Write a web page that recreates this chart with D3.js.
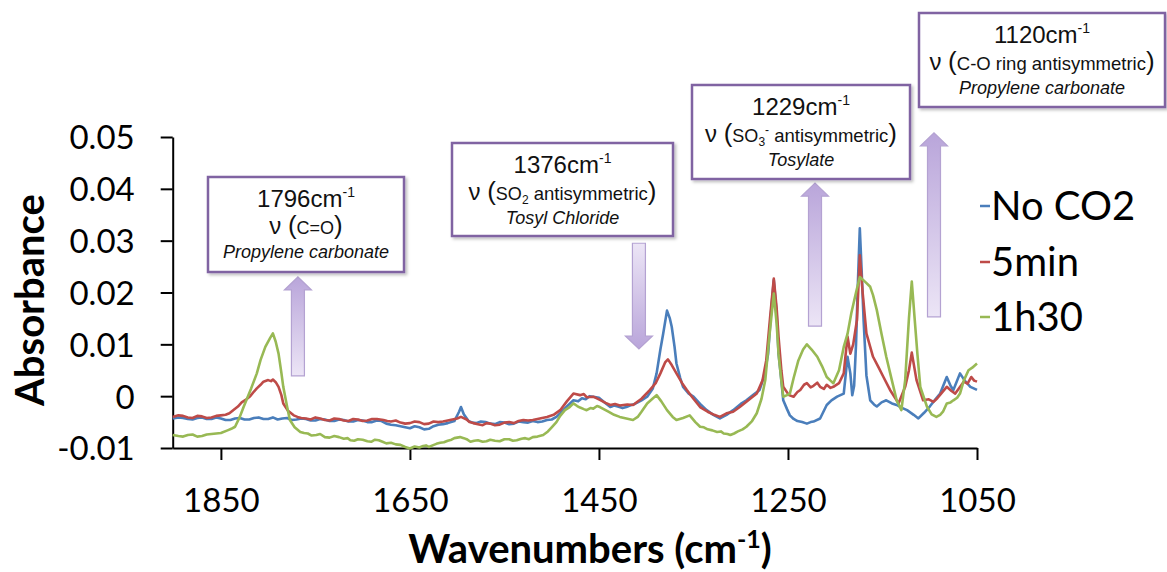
<!DOCTYPE html>
<html>
<head>
<meta charset="utf-8">
<script src="https://cdn.jsdelivr.net/npm/d3@7"></script>
<style>
  html, body { margin: 0; padding: 0; background: #ffffff; }
  svg { display: block; }
</style>
</head>
<body>
<svg id="chart" width="1167" height="572"></svg>
<script>
// ---------------- DATA ----------------
const seriesNames = ["No CO2", "5min", "1h30"];

const xTickValues = [1850, 1650, 1450, 1250, 1050];
const yTickValues = [-0.01, 0, 0.01, 0.02, 0.03, 0.04, 0.05];
const yTickLabels = ["-0.01", "0", "0.01", "0.02", "0.03", "0.04", "0.05"];

// [wavenumber (cm-1), absorbance]
const noCO2 = [
  [1901,-0.0043],[1895,-0.0041],[1890,-0.0042],[1885,-0.0044],[1880,-0.0045],[1875,-0.0042],[1870,-0.0041],
  [1865,-0.0044],[1860,-0.0044],[1855,-0.0041],[1850,-0.0043],[1845,-0.0046],
  [1840,-0.0046],[1835,-0.0043],[1830,-0.0042],[1825,-0.0045],[1820,-0.0045],[1815,-0.0042],[1810,-0.0041],
  [1805,-0.0044],[1800,-0.0044],[1795,-0.0041],[1790,-0.0045],
  [1785,-0.0043],[1780,-0.0042],[1775,-0.0046],[1770,-0.0045],[1765,-0.0043],[1760,-0.0044],[1755,-0.0047],
  [1750,-0.0047],[1745,-0.0044],[1740,-0.0045],[1735,-0.0048],[1730,-0.0048],
  [1725,-0.0045],[1720,-0.0046],[1715,-0.0049],[1710,-0.0049],[1705,-0.0046],[1700,-0.0047],[1695,-0.0050],
  [1690,-0.0050],[1685,-0.0047],[1680,-0.0048],[1675,-0.0053],[1670,-0.0055],
  [1665,-0.0056],[1660,-0.0058],[1655,-0.0060],[1650,-0.0062],[1645,-0.0058],[1640,-0.0060],[1635,-0.0064],
  [1630,-0.0063],[1625,-0.0058],[1620,-0.0055],[1615,-0.0054],[1610,-0.0052],
  [1603,-0.0048],[1598,-0.0030],[1596,-0.0021],[1593,-0.0035],[1588,-0.0048],[1584,-0.0051],[1580,-0.0052],
  [1575,-0.0049],[1570,-0.0050],[1565,-0.0053],[1560,-0.0054],[1555,-0.0050],[1550,-0.0051],[1545,-0.0054],
  [1540,-0.0053],[1535,-0.0049],[1530,-0.0050],[1525,-0.0051],[1520,-0.0048],
  [1515,-0.0050],[1510,-0.0049],[1505,-0.0046],[1500,-0.0045],[1495,-0.0040],[1491,-0.0033],[1484,-0.0020],
  [1477,-0.0008],[1472,-0.0010],[1468,-0.0004],[1464,-0.0006],
  [1460,0.0000],[1456,-0.0001],[1450,-0.0003],[1444,-0.0012],[1438,-0.0021],[1434,-0.0018],[1430,-0.0020],
  [1425,-0.0023],[1421,-0.0021],[1416,-0.0017],[1412,-0.0015],[1405,-0.0008],[1399,-0.0001],[1393,0.0015],[1389,0.0044],
  [1385,0.0090],[1382,0.0121],[1378,0.0165],[1375,0.0150],[1373,0.0134],[1370,0.0095],
  [1368,0.0063],[1364,0.0035],[1361,0.0018],[1355,0.0005],[1350,-0.0001],[1343,-0.0015],
  [1336,-0.0027],[1329,-0.0036],[1322,-0.0043],[1315,-0.0036],[1308,-0.0027],[1300,-0.0015],
  [1294,-0.0008],[1287,0.0002],[1280,0.0012],[1275,0.0040],[1271,0.0082],[1268,0.0160],
  [1265,0.0224],[1262,0.0160],[1260,0.0082],[1257,0.0030],[1255,-0.0008],[1251,-0.0025],
  [1248,-0.0037],[1244,-0.0044],[1240,-0.0048],[1235,-0.0050],[1230,-0.0053],[1226,-0.0050],[1223,-0.0049],[1216,-0.0043],
  [1209,-0.0017],[1204,-0.0008],[1198,-0.0001],[1191,0.0005],[1189,0.0040],[1187,0.0076],
  [1184,0.0044],[1182,0.0002],[1180,0.0020],[1178,0.0100],[1176,0.0220],[1174,0.0324],
  [1172,0.0240],[1170,0.0147],[1167,0.0040],[1163,-0.0008],[1159,-0.0016],[1156,-0.0020],[1151,-0.0012],[1146,-0.0008],
  [1140,-0.0014],[1135,-0.0017],[1130,-0.0022],[1124,-0.0027],[1117,-0.0036],[1112,-0.0043],[1106,-0.0032],[1100,-0.0020],
  [1094,-0.0006],[1089,0.0005],[1082,0.0037],[1078,0.0020],[1075,0.0012],[1068,0.0044],[1063,0.0030],[1057,0.0018],[1050,0.0012]
];

const min5 = [
  [1901,-0.0040],[1895,-0.0037],[1890,-0.0038],[1885,-0.0041],[1880,-0.0042],[1875,-0.0038],[1870,-0.0039],
  [1865,-0.0042],[1860,-0.0041],[1855,-0.0038],[1850,-0.0037],
  [1845,-0.0036],[1841,-0.0033],[1837,-0.0027],[1832,-0.0020],[1828,-0.0012],[1823,-0.0006],[1819,0.0000],[1815,0.0009],[1812,0.0015],[1808,0.0022],[1805,0.0028],
  [1800,0.0031],[1797,0.0029],[1795,0.0032],[1792,0.0027],[1789,0.0018],[1786,0.0002],[1784,-0.0014],
  [1779,-0.0028],[1773,-0.0037],[1769,-0.0040],[1765,-0.0042],[1760,-0.0043],[1755,-0.0045],[1750,-0.0041],[1745,-0.0043],[1740,-0.0046],[1735,-0.0047],
  [1730,-0.0043],[1725,-0.0044],[1720,-0.0047],[1715,-0.0048],[1710,-0.0044],[1705,-0.0045],[1700,-0.0048],[1695,-0.0047],[1690,-0.0044],[1685,-0.0044],[1678,-0.0046],
  [1674,-0.0048],[1670,-0.0049],[1665,-0.0047],[1660,-0.0051],[1655,-0.0053],[1650,-0.0052],[1645,-0.0049],[1640,-0.0050],[1635,-0.0054],[1630,-0.0053],[1625,-0.0049],[1620,-0.0050],
  [1615,-0.0049],[1610,-0.0047],[1605,-0.0045],[1600,-0.0043],[1596,-0.0040],[1590,-0.0045],[1587,-0.0050],[1583,-0.0052],[1578,-0.0054],[1573,-0.0056],
  [1569,-0.0052],[1565,-0.0053],[1560,-0.0056],[1555,-0.0055],[1550,-0.0051],[1545,-0.0050],[1540,-0.0052],[1535,-0.0048],[1530,-0.0046],[1525,-0.0047],[1520,-0.0046],[1515,-0.0044],
  [1510,-0.0042],[1505,-0.0040],[1498,-0.0036],[1491,-0.0027],[1484,-0.0010],[1477,0.0005],[1470,0.0002],
  [1466,0.0004],[1463,-0.0002],[1456,-0.0001],[1448,-0.0008],[1443,-0.0013],[1438,-0.0017],[1433,-0.0015],[1428,-0.0018],[1420,-0.0016],
  [1414,-0.0017],[1405,-0.0005],[1396,0.0012],[1390,0.0025],[1385,0.0044],[1380,0.0065],
  [1377,0.0071],[1373,0.0060],[1368,0.0044],[1362,0.0025],[1357,0.0012],[1350,-0.0005],
  [1343,-0.0021],[1335,-0.0030],[1328,-0.0036],[1322,-0.0040],[1315,-0.0033],[1308,-0.0030],
  [1301,-0.0021],[1292,-0.0008],[1283,0.0005],[1277,0.0030],[1273,0.0069],[1269,0.0150],
  [1265,0.0227],[1262,0.0170],[1260,0.0115],[1257,0.0050],[1255,0.0018],[1249,0.0002],
  [1244,-0.0001],[1240,0.0008],[1237,0.0012],[1233,0.0022],[1230,0.0025],[1226,0.0017],[1223,0.0020],[1219,0.0026],[1216,0.0018],[1212,0.0014],[1209,0.0022],
  [1205,0.0016],[1202,0.0018],[1196,0.0025],[1191,0.0044],[1189,0.0080],[1187,0.0115],[1184,0.0082],
  [1181,0.0100],[1177,0.0147],[1174,0.0272],[1171,0.0200],[1167,0.0121],[1163,0.0095],[1160,0.0076],
  [1154,0.0055],[1149,0.0037],[1142,0.0012],[1133,-0.0014],[1126,0.0018],[1122,0.0050],[1119,0.0084],
  [1114,0.0031],[1107,-0.0008],[1101,-0.0006],[1096,-0.0011],[1092,-0.0004],[1088,0.0005],[1082,0.0018],[1077,0.0010],[1073,0.0005],
  [1064,0.0028],[1060,0.0024],[1056,0.0037],[1053,0.0030],[1050,0.0028]
];

const h1m30 = [
  [1901,-0.0075],[1895,-0.0077],[1890,-0.0078],[1885,-0.0075],[1880,-0.0074],[1875,-0.0078],[1870,-0.0077],
  [1865,-0.0074],[1860,-0.0073],[1855,-0.0072],[1850,-0.0071],
  [1843,-0.0066],[1839,-0.0063],[1835,-0.0059],[1830,-0.0040],[1826,-0.0021],[1818,0.0015],[1812,0.0044],[1808,0.0070],
  [1803,0.0095],[1798,0.0112],[1795,0.0121],[1792,0.0105],[1789,0.0082],[1786,0.0045],
  [1784,0.0018],[1780,-0.0020],[1777,-0.0046],[1772,-0.0060],[1766,-0.0069],[1762,-0.0071],[1758,-0.0072],
  [1754,-0.0076],[1749,-0.0075],[1745,-0.0073],[1740,-0.0079],[1735,-0.0080],[1730,-0.0077],[1725,-0.0079],[1720,-0.0082],[1716,-0.0081],[1713,-0.0085],[1709,-0.0086],[1705,-0.0083],
  [1700,-0.0084],[1695,-0.0087],[1691,-0.0088],[1687,-0.0084],[1683,-0.0085],[1679,-0.0088],[1675,-0.0091],[1670,-0.0090],[1665,-0.0093],[1660,-0.0094],[1655,-0.0098],[1650,-0.0101],
  [1645,-0.0097],[1640,-0.0099],[1636,-0.0096],[1633,-0.0095],[1630,-0.0098],[1626,-0.0095],[1622,-0.0092],[1618,-0.0090],[1614,-0.0089],[1610,-0.0086],
  [1606,-0.0084],[1603,-0.0081],[1597,-0.0079],[1593,-0.0081],[1590,-0.0083],[1586,-0.0088],[1582,-0.0086],[1578,-0.0085],[1573,-0.0088],[1569,-0.0087],[1565,-0.0084],
  [1560,-0.0086],[1555,-0.0087],[1550,-0.0083],[1545,-0.0083],[1541,-0.0086],[1537,-0.0085],[1532,-0.0082],[1528,-0.0081],[1524,-0.0083],[1520,-0.0079],[1515,-0.0078],[1509,-0.0075],
  [1504,-0.0068],[1500,-0.0060],[1495,-0.0050],[1491,-0.0038],[1486,-0.0027],[1481,-0.0021],[1477,-0.0014],[1473,-0.0019],[1470,-0.0022],[1466,-0.0025],[1463,-0.0027],
  [1459,-0.0023],[1456,-0.0024],[1452,-0.0019],[1449,-0.0021],[1444,-0.0026],[1440,-0.0030],[1434,-0.0036],[1428,-0.0040],[1421,-0.0043],[1414,-0.0046],[1409,-0.0040],[1405,-0.0030],
  [1399,-0.0014],[1394,-0.0006],[1389,0.0002],[1384,-0.0010],[1378,-0.0027],[1372,-0.0040],[1368,-0.0046],
  [1361,-0.0042],[1354,-0.0037],[1348,-0.0050],[1343,-0.0059],[1339,-0.0060],[1335,-0.0064],[1330,-0.0066],[1325,-0.0069],
  [1321,-0.0068],[1318,-0.0072],[1314,-0.0073],[1311,-0.0075],[1307,-0.0072],[1303,-0.0068],[1298,-0.0064],[1294,-0.0059],[1288,-0.0048],[1283,-0.0033],
  [1278,-0.0005],[1274,0.0031],[1270,0.0110],[1265,0.0198],[1262,0.0140],[1260,0.0082],
  [1257,0.0030],[1255,-0.0001],[1251,0.0002],[1248,0.0005],[1244,0.0035],[1239,0.0069],
  [1234,0.0090],[1230,0.0100],[1225,0.0090],[1219,0.0076],[1214,0.0058],[1209,0.0037],
  [1205,0.0030],[1202,0.0025],[1196,0.0050],[1191,0.0095],[1187,0.0120],[1183,0.0160],[1178,0.0200],
  [1174,0.0230],[1168,0.0220],[1163,0.0211],[1160,0.0195],[1156,0.0166],[1151,0.0120],
  [1146,0.0076],[1140,0.0030],[1135,-0.0008],[1130,-0.0027],[1126,0.0031],[1122,0.0150],
  [1119,0.0221],[1116,0.0150],[1113,0.0080],[1110,0.0018],[1103,-0.0020],[1098,-0.0035],[1093,-0.0040],
  [1089,-0.0036],[1086,-0.0030],[1082,-0.0014],[1078,-0.0012],[1075,-0.0008],[1071,-0.0003],[1068,0.0005],[1064,0.0030],[1059,0.0050],
  [1055,0.0055],[1050,0.0063]
];

const seriesData = [noCO2, min5, h1m30];
const seriesColors = ["#4A7EBB", "#BE4B48", "#98B954"];

// annotation texts and arrow extents (wavenumber, absorbance from -> to)
const annoWavenumber = ["1796", "1376", "1229", "1120"];
const annoBond = [
  [{t:"C=O"}],
  [{t:"SO"},{t:"2", sub:true},{t:" antisymmetric", big:true}],
  [{t:"SO"},{t:"3", sub:true},{t:"-", sup:true},{t:" antisymmetric", big:true}],
  [{t:"C-O ring antisymmetric", big:true}]
];
const annoCompound = ["Propylene carbonate", "Tosyl Chloride", "Tosylate", "Propylene carbonate"];
const arrowWn   = [1768.5, 1407.7, 1221.4, 1095.5];
const arrowFrom = [0.0039, 0.0295, 0.0135, 0.0153];
const arrowTo   = [0.0230, 0.0091, 0.0411, 0.0508];

// ---------------- LAYOUT ----------------
const svg = d3.select("#chart");
const plot = { left: 172.7, right: 977, top: 137, bottom: 448 };
const boxes = [
  { x: 208, y: 177, w: 196, h: 95 },
  { x: 452, y: 143, w: 221, h: 93 },
  { x: 692, y: 85,  w: 218, h: 94 },
  { x: 919, y: 13,  w: 246, h: 94 }
];

const x = d3.scaleLinear().domain([1901, 1050]).range([plot.left, plot.right]);
const y = d3.scaleLinear().domain([-0.01, 0.05]).range([plot.bottom, plot.top]);

const defs = svg.append("defs");
const shadow = defs.append("filter").attr("id", "shadow")
  .attr("x", "-10%").attr("y", "-10%").attr("width", "130%").attr("height", "130%");
shadow.append("feDropShadow").attr("dx", 2).attr("dy", 2).attr("stdDeviation", 1.5)
  .attr("flood-color", "#000").attr("flood-opacity", 0.25);

const gUp = defs.append("linearGradient").attr("id", "gradUp")
  .attr("x1", 0).attr("y1", 0).attr("x2", 0).attr("y2", 1);
gUp.append("stop").attr("offset", "0%").attr("stop-color", "#b9a5da");
gUp.append("stop").attr("offset", "100%").attr("stop-color", "#ece5f6");
const gDown = defs.append("linearGradient").attr("id", "gradDown")
  .attr("x1", 0).attr("y1", 0).attr("x2", 0).attr("y2", 1);
gDown.append("stop").attr("offset", "0%").attr("stop-color", "#ece5f6");
gDown.append("stop").attr("offset", "100%").attr("stop-color", "#b9a5da");

const FONT_AX = "Lato, 'Open Sans', sans-serif";
const FONT_AN = "'Liberation Sans', Arial, sans-serif";

// ---------------- AXES ----------------
const yAxis = d3.axisLeft(y).tickValues(yTickValues)
  .tickFormat((d, i) => yTickLabels[i]).tickSize(12).tickSizeOuter(0).tickPadding(26);
const gy = svg.append("g").attr("transform", `translate(${plot.left},0)`).call(yAxis);
gy.select(".domain").attr("stroke", "#000").attr("stroke-width", 2);
gy.selectAll(".tick line").attr("stroke", "#000").attr("stroke-width", 2);
gy.selectAll(".tick text").attr("font-family", FONT_AX).attr("font-size", 33)
  .attr("fill", "#000").attr("dy", "0.36em");

const xAxis = d3.axisBottom(x).tickValues(xTickValues).tickFormat(d3.format("d"))
  .tickSize(12).tickSizeOuter(0);
const gx = svg.append("g").attr("transform", `translate(0,${plot.bottom})`).call(xAxis);
gx.select(".domain").attr("stroke", "#000").attr("stroke-width", 2);
gx.selectAll(".tick line").attr("stroke", "#000").attr("stroke-width", 2);
gx.selectAll(".tick text").attr("font-family", FONT_AX).attr("font-size", 33)
  .attr("fill", "#000").attr("y", 64).attr("dy", 0);

// axis titles
const xt = svg.append("text").attr("x", 590).attr("y", 563).attr("text-anchor", "middle")
  .attr("font-family", FONT_AX).attr("font-weight", "bold").attr("font-size", 40).attr("fill", "#000");
xt.append("tspan").text("Wavenumbers (cm");
xt.append("tspan").attr("font-size", 25).attr("dy", -15).text("-1");
xt.append("tspan").attr("dy", 15).text(")");

svg.append("text").attr("transform", "translate(44,300) rotate(-90)")
  .attr("text-anchor", "middle").attr("font-family", FONT_AX).attr("font-weight", "bold")
  .attr("font-size", 40).attr("fill", "#000").text("Absorbance");

// ---------------- LINES ----------------
const line = d3.line().x(d => x(d[0])).y(d => y(d[1])).curve(d3.curveLinear);
svg.append("g").selectAll("path").data(seriesData).join("path")
  .attr("d", line).attr("fill", "none")
  .attr("stroke", (d, i) => seriesColors[i]).attr("stroke-width", 2.6)
  .attr("stroke-linejoin", "round");

// ---------------- LEGEND ----------------
const legendRows = [206, 262, 317];
const lg = svg.append("g");
seriesNames.forEach((name, i) => {
  lg.append("line").attr("x1", 980).attr("x2", 990)
    .attr("y1", legendRows[i]).attr("y2", legendRows[i])
    .attr("stroke", seriesColors[i]).attr("stroke-width", 2.5);
  lg.append("text").attr("x", 991).attr("y", legendRows[i] + 14)
    .attr("font-family", FONT_AX).attr("font-size", 40).attr("fill", "#000").text(name);
});

// ---------------- ARROWS ----------------
const shaftHalf = 6.5, headHalf = 13.5, headLen = 13;
arrowWn.forEach((wn, i) => {
  const cx = x(wn), y0 = y(arrowFrom[i]), y1 = y(arrowTo[i]);
  const dir = y1 < y0 ? -1 : 1; // -1 up
  const hb = y1 - dir * headLen;
  const pts = [
    [cx - shaftHalf, y0], [cx - shaftHalf, hb], [cx - headHalf, hb], [cx, y1],
    [cx + headHalf, hb], [cx + shaftHalf, hb], [cx + shaftHalf, y0]
  ];
  svg.append("path").attr("d", "M" + pts.map(p => p.join(",")).join("L") + "Z")
    .attr("fill", dir < 0 ? "url(#gradUp)" : "url(#gradDown)")
    .attr("stroke", "#b4a2d2").attr("stroke-width", 1.2);
});

// ---------------- ANNOTATION BOXES ----------------
boxes.forEach((b, i) => {
  const g = svg.append("g");
  g.append("rect").attr("x", b.x).attr("y", b.y).attr("width", b.w).attr("height", b.h)
    .attr("fill", "#fff").attr("stroke", "#8064A2").attr("stroke-width", 2.5)
    .attr("filter", "url(#shadow)");
  const cx = b.x + b.w / 2;
  const t1 = g.append("text").attr("x", cx).attr("y", b.y + 30).attr("text-anchor", "middle")
    .attr("font-family", FONT_AN).attr("font-size", 24).attr("fill", "#111");
  t1.append("tspan").text(annoWavenumber[i] + "cm");
  t1.append("tspan").attr("font-size", 14).attr("dy", -10).text("-1");

  const t2 = g.append("text").attr("x", cx).attr("y", b.y + 57).attr("text-anchor", "middle")
    .attr("font-family", FONT_AN).attr("font-size", 24).attr("fill", "#111");
  t2.append("tspan").text("ν ");
  t2.append("tspan").attr("font-size", 26).text("(");
  let shift = 0;
  annoBond[i].forEach(part => {
    const small = part.sub || part.sup;
    const s = t2.append("tspan").attr("font-size", small ? 12 : (part.big ? 18.5 : 18));
    if (part.sub) { s.attr("dy", 4 - shift); shift = 4; }
    else if (part.sup) { s.attr("dy", -8 - shift); shift = -8; }
    else if (shift !== 0) { s.attr("dy", -shift); shift = 0; }
    s.text(part.t);
  });
  const close = t2.append("tspan").attr("font-size", 26).text(")");
  if (shift !== 0) close.attr("dy", -shift);

  g.append("text").attr("x", cx).attr("y", b.y + 81).attr("text-anchor", "middle")
    .attr("font-family", FONT_AN).attr("font-style", "italic").attr("font-size", 18)
    .attr("fill", "#111").text(annoCompound[i]);
});
</script>
</body>
</html>
